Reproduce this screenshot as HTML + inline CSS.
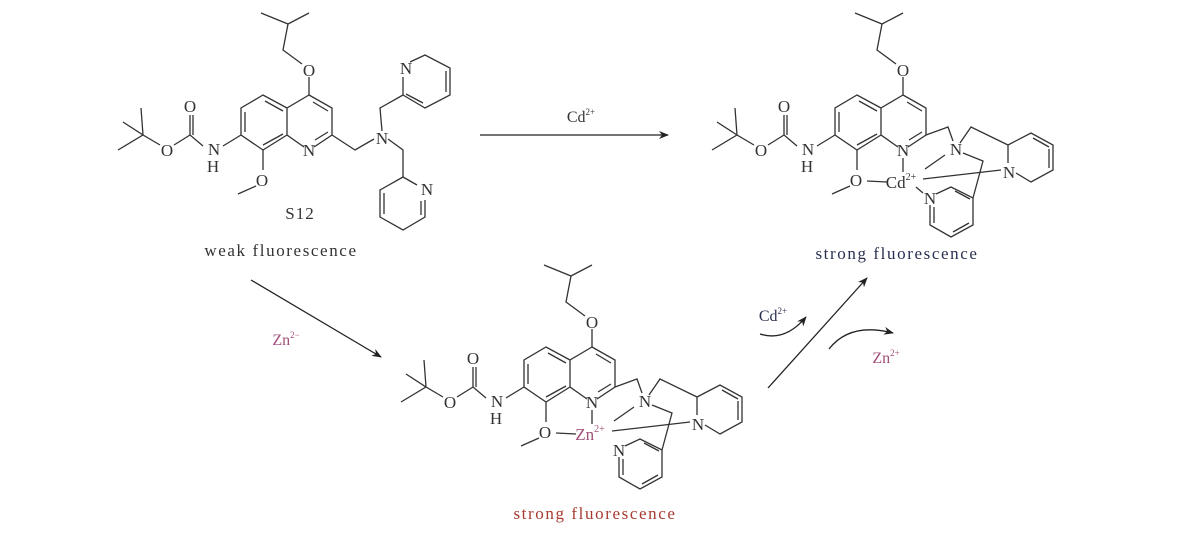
<!DOCTYPE html>
<html><head><meta charset="utf-8"><style>
html,body{margin:0;padding:0;background:#fff;}
svg{display:block;}
text{font-family:"Liberation Serif",serif;}
</style></head><body>
<svg width="1188" height="544" viewBox="0 0 1188 544" xmlns="http://www.w3.org/2000/svg">
<defs>
<marker id="ah" markerWidth="10" markerHeight="8" refX="9" refY="4" orient="auto" markerUnits="userSpaceOnUse">
<path d="M0,0 L10,4 L0,8 L3,4 Z" fill="#222"/></marker>
<g id="core" stroke="#333" stroke-width="1.3" fill="none">
<path d="M-48,-82 L-21,-71 L0,-82 M-21,-71 L-26,-45 L-7,-31 M0,-18 L0,0"/>
<path d="M0,0 L23,13 L23,40 L5,52 M-5,52 L-22,40 L-22,13 L0,0 M-22,13 L-46,0 L-68,13 L-68,40 L-46,55 L-22,40"/>
<path d="M4,7 L19,16 M19,37 L6,45 M-26,16 L-44,6 M-64,17 L-64,37 M-46,50 L-26,39"/>
<path d="M-46,55 L-46,75 M-53,91 L-71,99"/>
<path d="M-68,40 L-86,51 M-106,51 L-119,40 L-119,20 M-116,40 L-116,20 M-119,40 L-135,50 M-149,50 L-166,40 L-191,55 M-166,40 L-186,27 M-166,40 L-168,13"/>
</g>
<g id="corelbl" fill="#333" font-size="17" text-anchor="middle">
<text x="0" y="-19">O</text>
<text x="-47" y="91">O</text>
<text x="-95" y="60">N</text>
<text x="-96" y="77">H</text>
<text x="-119" y="17">O</text>
<text x="-142" y="61">O</text>
</g>
</defs>

<g transform="translate(309,95)">
<use href="#core"/><use href="#corelbl"/>
<text x="0" y="61" font-size="17" text-anchor="middle" fill="#333">N</text>
<g stroke="#333" stroke-width="1.3" fill="none">
<path d="M23,40 L46,55 L65,44 M79,44 L94,55 L94,82 M73,36 L71,13 L94,0"/>
<path d="M94,0 L94,-18 M101,-33 L116,-40 L141,-27 L141,0 L116,13 L94,0 M137,-24 L137,-3 M114,8 L97,-1"/>
<path d="M94,82 L108,90 M116,105 L116,122 L94,135 L71,122 L71,95 L94,82 M112,106 L112,120 M75,98 L75,119"/>
</g>
<g fill="#333" font-size="17" text-anchor="middle">
<text x="73" y="49">N</text>
<text x="97" y="-21">N</text>
<text x="118" y="100">N</text>
</g>
</g>
<text x="300" y="219" font-size="17" text-anchor="middle" fill="#333" letter-spacing="1">S12</text>
<text x="281" y="256" font-size="17" text-anchor="middle" fill="#333" letter-spacing="1.6">weak fluorescence</text>

<defs>
<g id="cx" stroke="#333" stroke-width="1.3" fill="none">
<path d="M23,40 L45,32 L50,46 M57,48 L68,32 L105,50"/>
<path d="M105,50 L128,38 L150,50 L150,75 L128,87 L113,78 M105,50 L105,68 M130,43 L146,52 M146,54 L146,73"/>
<path d="M60,58 L80,66 L70,103 L48,92 L33,99 M27,110 L27,130 L48,142 L70,130 L70,103 M31,112 L31,128 M50,137 L66,128 M52,96 L67,104"/>
<path d="M0,63 L0,77 M-36,86 L-16,87 M20,84 L98,75 M22,74 L42,60"/>
</g>
</defs>

<g transform="translate(592,347)">
<use href="#core"/><use href="#corelbl"/>
<use href="#cx"/>
<g fill="#333" font-size="17" text-anchor="middle">
<text x="0" y="61">N</text>
<text x="53" y="60">N</text>
<text x="106" y="83">N</text>
<text x="27" y="109">N</text>
</g>
<text x="-2" y="93" font-size="17" text-anchor="middle" fill="#a0507a">Zn<tspan font-size="10" dy="-8">2+</tspan></text>
</g>
<text x="595" y="519" font-size="17" text-anchor="middle" fill="#a83a30" letter-spacing="1.6">strong fluorescence</text>

<g transform="translate(903,95)">
<use href="#core"/><use href="#corelbl"/>
<use href="#cx"/>
<path d="M13,92 L20,98" stroke="#333" stroke-width="1.3"/>
<g fill="#333" font-size="17" text-anchor="middle">
<text x="0" y="61">N</text>
<text x="53" y="60">N</text>
<text x="106" y="83">N</text>
<text x="27" y="109">N</text>
<text x="-2" y="93">Cd<tspan font-size="10" dy="-8">2+</tspan></text>
</g>
</g>
<text x="897" y="259" font-size="17" text-anchor="middle" fill="#2a3050" letter-spacing="1.6">strong fluorescence</text>

<g stroke="#222" stroke-width="1.3" fill="none">
<line x1="480" y1="135" x2="668" y2="135" marker-end="url(#ah)"/>
<line x1="251" y1="280" x2="381" y2="357" marker-end="url(#ah)"/>
<line x1="768" y1="388" x2="867" y2="278" marker-end="url(#ah)"/>
<path d="M760,334 Q785,342 806,317" marker-end="url(#ah)"/>
<path d="M829,349 Q850,322 893,333" marker-end="url(#ah)"/>
</g>
<text x="581" y="122" font-size="16" text-anchor="middle" fill="#333">Cd<tspan font-size="9" dy="-7">2+</tspan></text>
<text x="286" y="345" font-size="16" text-anchor="middle" fill="#a0507a">Zn<tspan font-size="9" dy="-7">2−</tspan></text>
<text x="773" y="321" font-size="16" text-anchor="middle" fill="#2a3050">Cd<tspan font-size="9" dy="-7">2+</tspan></text>
<text x="886" y="363" font-size="16" text-anchor="middle" fill="#a0507a">Zn<tspan font-size="9" dy="-7">2+</tspan></text>
</svg>
</body></html>
